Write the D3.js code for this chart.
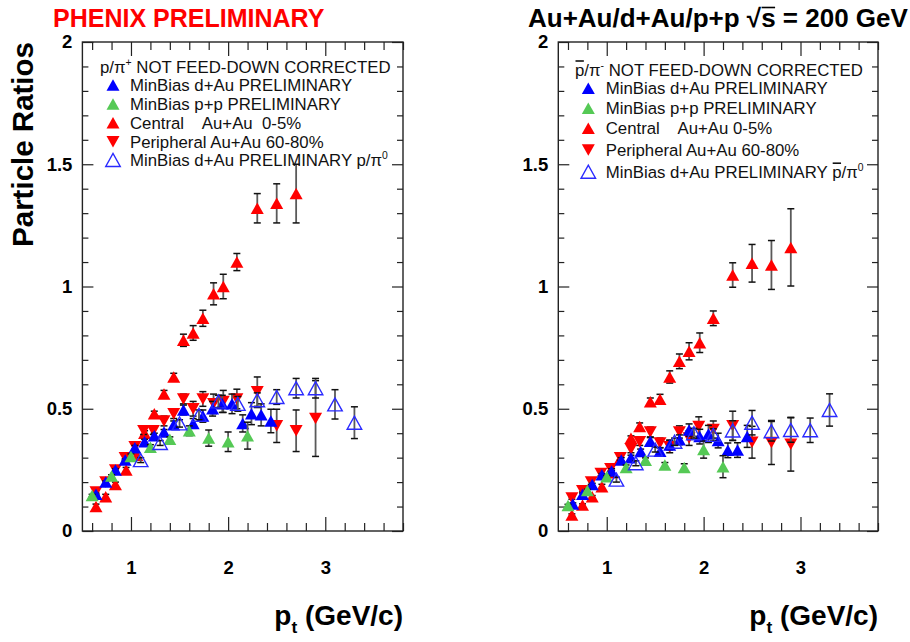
<!DOCTYPE html>
<html><head><meta charset="utf-8">
<script src="https://cdn.jsdelivr.net/npm/d3@7/dist/d3.min.js"></script>
<style>
body{margin:0;background:#fff}
svg{display:block}
text{font-family:"Liberation Sans",Arial,Helvetica,sans-serif;white-space:pre}
</style>
</head><body>
<svg id="c" width="910" height="642"></svg>
<script>
// ---------- DATA ----------
// Left panel: p/pi+
const ptCentralL    = [0.64,0.74,0.84,0.95,1.06,1.14,1.24,1.34,1.44,1.54,1.64,1.74,1.85,1.95,2.09,2.30,2.50,2.70];
const ratioCentralL = [0.10,0.14,0.19,0.25,0.31,0.40,0.48,0.56,0.63,0.78,0.81,0.87,0.97,1.00,1.10,1.32,1.34,1.38];
const errCentralL   = [0.01,0.01,0.01,0.01,0.01,0.01,0.01,0.015,0.015,0.025,0.03,0.033,0.045,0.05,0.035,0.06,0.08,0.12];

const ptPeriphL     = [0.64,0.74,0.84,0.94,1.04,1.13,1.23,1.34,1.44,1.54,1.64,1.74,1.85,1.95,2.09,2.30,2.50,2.70,2.90];
const ratioPeriphL  = [0.16,0.20,0.25,0.30,0.345,0.41,0.41,0.45,0.48,0.54,0.50,0.54,0.52,0.53,0.54,0.57,0.43,0.41,0.46];
const errPeriphL    = [0.01,0.01,0.01,0.01,0.01,0.015,0.015,0.02,0.02,0.02,0.03,0.03,0.04,0.045,0.04,0.06,0.068,0.085,0.155];

const ptDAuL        = [0.64,0.74,0.84,0.94,1.04,1.14,1.24,1.34,1.44,1.54,1.64,1.74,1.84,1.94,2.04,2.15,2.24,2.34,2.44];
const ratioDAuL     = [0.15,0.20,0.25,0.29,0.34,0.365,0.39,0.405,0.435,0.495,0.44,0.47,0.50,0.52,0.52,0.44,0.48,0.475,0.45];
const errDAuL       = [0.005,0.005,0.005,0.005,0.01,0.01,0.01,0.01,0.015,0.02,0.02,0.025,0.03,0.035,0.04,0.035,0.045,0.045,0.048];

const ptPPL         = [0.6,0.8,1.0,1.2,1.4,1.6,1.8,2.0,2.2];
const ratioPPL      = [0.145,0.225,0.305,0.343,0.375,0.41,0.38,0.365,0.39];
const errPPL        = [0.005,0.005,0.01,0.01,0.01,0.02,0.033,0.04,0.055];

const ptPi0L        = [1.1,1.3,1.5,1.7,1.9,2.1,2.3,2.5,2.7,2.9,3.1,3.3];
const ratioPi0L     = [0.29,0.36,0.44,0.475,0.53,0.52,0.535,0.548,0.584,0.584,0.518,0.443];
const errPi0L       = [0.01,0.01,0.015,0.02,0.025,0.03,0.03,0.03,0.04,0.04,0.06,0.065];

// Right panel: pbar/pi-
const ptCentralR    = [0.64,0.75,0.85,0.95,1.05,1.14,1.25,1.34,1.45,1.55,1.65,1.75,1.85,1.96,2.10,2.30,2.50,2.70,2.90];
const ratioCentralR = [0.065,0.106,0.14,0.181,0.238,0.297,0.379,0.427,0.529,0.539,0.63,0.694,0.735,0.77,0.87,1.047,1.095,1.088,1.16];
const errCentralR   = [0.005,0.005,0.005,0.01,0.01,0.01,0.01,0.015,0.015,0.02,0.025,0.03,0.035,0.04,0.03,0.05,0.077,0.10,0.158];

const ptPeriphR     = [0.64,0.75,0.84,0.94,1.04,1.14,1.25,1.34,1.45,1.55,1.65,1.75,1.85,1.95,2.10,2.30,2.50,2.70,2.90];
const ratioPeriphR  = [0.135,0.165,0.20,0.235,0.255,0.30,0.335,0.365,0.405,0.36,0.345,0.405,0.38,0.427,0.415,0.43,0.363,0.362,0.355];
const errPeriphR    = [0.005,0.005,0.01,0.01,0.01,0.01,0.015,0.015,0.02,0.02,0.025,0.025,0.03,0.04,0.035,0.06,0.065,0.09,0.11];

const ptDAuR        = [0.65,0.75,0.85,0.95,1.05,1.15,1.25,1.35,1.45,1.55,1.65,1.75,1.85,1.96,2.05,2.15,2.25,2.35,2.45];
const ratioDAuR     = [0.11,0.15,0.19,0.23,0.245,0.29,0.30,0.325,0.367,0.326,0.352,0.373,0.413,0.386,0.397,0.37,0.33,0.331,0.387];
const errDAuR       = [0.005,0.005,0.005,0.005,0.01,0.01,0.01,0.01,0.015,0.015,0.02,0.02,0.025,0.03,0.035,0.03,0.03,0.03,0.045];

const ptPPR         = [0.6,0.8,1.0,1.2,1.4,1.6,1.8,2.0,2.2];
const ratioPPR      = [0.104,0.166,0.222,0.26,0.289,0.27,0.26,0.333,0.263];
const errPPR        = [0.005,0.005,0.005,0.01,0.01,0.01,0.015,0.035,0.045];

const ptPi0R        = [1.1,1.3,1.5,1.7,1.9,2.1,2.3,2.5,2.7,2.9,3.1,3.3];
const ratioPi0R     = [0.21,0.277,0.333,0.365,0.40,0.393,0.411,0.443,0.408,0.413,0.412,0.495];
const errPi0R       = [0.01,0.01,0.01,0.015,0.02,0.025,0.04,0.05,0.04,0.05,0.05,0.066];

// Axes / ticks
const xDomain = [0.5, 3.8];
const yDomain = [0, 2];
const xMajorTicks = [1, 2, 3];
const xTickLabels = ["1", "2", "3"];
const yMajorTicks = [0, 0.5, 1, 1.5, 2];
const yTickLabels = ["0", "0.5", "1", "1.5", "2"];

// Legends ('^' superscript next char, '_' subscript, '!' overline)
const legendHeaderL = "p/π^+ NOT FEED-DOWN CORRECTED";
const legendHeaderR = "!p/π^- NOT FEED-DOWN CORRECTED";
const legendLabelsL = ["MinBias d+Au PRELIMINARY","MinBias p+p PRELIMINARY","Central    Au+Au  0-5%","Peripheral Au+Au 60-80%","MinBias d+Au PRELIMINARY p/π^0"];
const legendLabelsR = ["MinBias d+Au PRELIMINARY","MinBias p+p PRELIMINARY","Central    Au+Au 0-5%","Peripheral Au+Au 60-80%","MinBias d+Au PRELIMINARY !p/π^0"];
const titleL = "PHENIX PRELIMINARY";
const titleR = "Au+Au/d+Au/p+p √!s = 200 GeV";
const yTitle = "Particle Ratios";
const xTitle = "p_t (GeV/c)";

// ---------- STYLE ----------
const RED = "#ff0000", BLUE = "#0000ff", GREEN = "#55c955", OPEN = "#2a2aff";
const svg = d3.select("#c");

function triPath(cx, cy, w, h, up) {
  return up
    ? `M${cx-w/2},${cy+h/2}L${cx+w/2},${cy+h/2}L${cx},${cy-h/2}Z`
    : `M${cx-w/2},${cy-h/2}L${cx+w/2},${cy-h/2}L${cx},${cy+h/2}Z`;
}

function marker(g, cx, cy, type, color) {
  if (type === "open") {
    g.append("path").attr("d", triPath(cx, cy, 14.5, 13, true))
      .attr("fill", "none").attr("stroke", color).attr("stroke-width", 1.4);
  } else {
    g.append("path").attr("d", triPath(cx, cy, 13, 11.5, type === "up"))
      .attr("fill", color);
  }
}

function rich(textSel, str, fs) {
  const runs = [];
  for (let i = 0; i < str.length; i++) {
    const c = str[i];
    if (c === "^" || c === "_" || c === "!") { runs.push({t: str[i+1], m: c}); i++; }
    else {
      const last = runs[runs.length-1];
      if (last && last.m === "") last.t += c; else runs.push({t: c, m: ""});
    }
  }
  let prev = 0, idx = 0; const overs = [];
  runs.forEach(r => {
    const shift = r.m === "^" ? -0.42*fs : r.m === "_" ? 0.28*fs : 0;
    const ts = textSel.append("tspan").text(r.t);
    if (shift - prev !== 0) ts.attr("dy", shift - prev);
    if (r.m === "^" || r.m === "_") ts.style("font-size", (0.62*fs) + "px");
    if (r.m === "!") overs.push(idx);
    prev = shift; idx += r.t.length;
  });
  return overs;
}

function drawOverlines(textSel, overs, baseline, off, parent) {
  const node = textSel.node();
  overs.forEach(i => {
    const e = node.getExtentOfChar(i);
    parent.append("line").attr("x1", e.x + 0.5).attr("x2", e.x + e.width - 0.5)
      .attr("y1", baseline - off).attr("y2", baseline - off)
      .attr("stroke", textSel.attr("fill") || "#000").attr("stroke-width", 1.6);
  });
}

const panels = [
  {
    x0: 82.4, x1: 403, header: legendHeaderL, labels: legendLabelsL,
    legX: 100, legY: 72.7, legMX: 113, legTX: 130, legRows: [85, 104, 122.7, 141.7, 160],
    series: [
      {pt: ptCentralL, r: ratioCentralL, e: errCentralL, type: "up", color: RED},
      {pt: ptPeriphL, r: ratioPeriphL, e: errPeriphL, type: "down", color: RED},
      {pt: ptDAuL, r: ratioDAuL, e: errDAuL, type: "up", color: BLUE},
      {pt: ptPPL, r: ratioPPL, e: errPPL, type: "up", color: GREEN},
      {pt: ptPi0L, r: ratioPi0L, e: errPi0L, type: "open", color: OPEN}
    ]
  },
  {
    x0: 558.3, x1: 878, header: legendHeaderR, labels: legendLabelsR,
    legX: 575, legY: 76, legMX: 588.3, legTX: 605.7, legRows: [88.3, 108.3, 128.3, 150, 171.7],
    series: [
      {pt: ptCentralR, r: ratioCentralR, e: errCentralR, type: "up", color: RED},
      {pt: ptPeriphR, r: ratioPeriphR, e: errPeriphR, type: "down", color: RED},
      {pt: ptDAuR, r: ratioDAuR, e: errDAuR, type: "up", color: BLUE},
      {pt: ptPPR, r: ratioPPR, e: errPPR, type: "up", color: GREEN},
      {pt: ptPi0R, r: ratioPi0R, e: errPi0R, type: "open", color: OPEN}
    ]
  }
];
const legendOrder = [2, 3, 0, 1, 4];
const Y0 = 531, Y1 = 42;
const FS_TICK = 18.5, FS_LEG = 16.8;

panels.forEach(p => {
  const x = d3.scaleLinear().domain(xDomain).range([p.x0, p.x1]);
  const y = d3.scaleLinear().domain(yDomain).range([Y0, Y1]);
  const g = svg.append("g");
  const xMinor = d3.range(0.6, 3.81, 0.2).filter(v => Math.abs(v - Math.round(v)) > 1e-6);
  const yMinor = d3.range(0.1, 2.0, 0.1).filter(v => Math.abs(v*2 - Math.round(v*2)) > 1e-6);

  const strip = s => s.call(a => a.select(".domain").remove());
  const style = s => s.selectAll("line").attr("stroke", "#222").attr("stroke-width", 1.2);

  // bottom
  g.append("g").attr("transform", `translate(0,${Y0})`)
    .call(d3.axisBottom(x).tickValues(xMajorTicks).tickFormat((d,i) => xTickLabels[i]).tickSizeInner(-14).tickSizeOuter(0).tickPadding(30))
    .call(strip).call(style)
    .call(a => a.selectAll("text").attr("font-size", FS_TICK).attr("font-weight", "bold").attr("fill", "#000")
      .attr("font-family", '"Liberation Sans",Arial,sans-serif'));
  g.append("g").attr("transform", `translate(0,${Y0})`)
    .call(d3.axisBottom(x).tickValues(xMinor).tickFormat("").tickSizeInner(-8).tickSizeOuter(0)).call(strip).call(style);
  // top
  g.append("g").attr("transform", `translate(0,${Y1})`)
    .call(d3.axisTop(x).tickValues(xMajorTicks).tickFormat("").tickSizeInner(-14).tickSizeOuter(0)).call(strip).call(style);
  g.append("g").attr("transform", `translate(0,${Y1})`)
    .call(d3.axisTop(x).tickValues(xMinor).tickFormat("").tickSizeInner(-8).tickSizeOuter(0)).call(strip).call(style);
  // left
  g.append("g").attr("transform", `translate(${p.x0},0)`)
    .call(d3.axisLeft(y).tickValues(yMajorTicks).tickFormat((d,i) => yTickLabels[i]).tickSizeInner(-11).tickSizeOuter(0).tickPadding(10))
    .call(strip).call(style)
    .call(a => a.selectAll("text").attr("font-size", FS_TICK).attr("font-weight", "bold").attr("fill", "#000")
      .attr("font-family", '"Liberation Sans",Arial,sans-serif'));
  g.append("g").attr("transform", `translate(${p.x0},0)`)
    .call(d3.axisLeft(y).tickValues(yMinor).tickFormat("").tickSizeInner(-6).tickSizeOuter(0)).call(strip).call(style);
  // right
  g.append("g").attr("transform", `translate(${p.x1},0)`)
    .call(d3.axisRight(y).tickValues(yMajorTicks).tickFormat("").tickSizeInner(-11).tickSizeOuter(0)).call(strip).call(style);
  g.append("g").attr("transform", `translate(${p.x1},0)`)
    .call(d3.axisRight(y).tickValues(yMinor).tickFormat("").tickSizeInner(-6).tickSizeOuter(0)).call(strip).call(style);

  // frame
  g.append("rect").attr("x", p.x0).attr("y", Y1).attr("width", p.x1 - p.x0).attr("height", Y0 - Y1)
    .attr("fill", "none").attr("stroke", "#222").attr("stroke-width", 1.4);

  // legend
  const lg = g.append("g");
  const hd = lg.append("text").attr("x", p.legX).attr("y", p.legY).attr("font-size", FS_LEG).attr("fill", "#111");
  drawOverlines(hd, rich(hd, p.header, FS_LEG), p.legY, 15, lg);
  legendOrder.forEach((si, row) => {
    const s = p.series[si];
    const cy = p.legRows[row];
    marker(lg, p.legMX, cy, s.type, s.color);
    const t = lg.append("text").attr("x", p.legTX).attr("y", cy + 6).attr("font-size", FS_LEG).attr("fill", "#111");
    drawOverlines(t, rich(t, p.labels[row], FS_LEG), cy + 6, 14.5, lg);
  });

  // data
  p.series.forEach(s => {
    const sg = g.append("g");
    s.pt.forEach((pt, i) => {
      const cx = x(pt), yt = y(s.r[i] + s.e[i]), yb = y(s.r[i] - s.e[i]);
      sg.append("line").attr("x1", cx).attr("x2", cx).attr("y1", yt).attr("y2", yb)
        .attr("stroke", "#5a5a5a").attr("stroke-width", 1.8);
      [yt, yb].forEach(yy => sg.append("line").attr("x1", cx - 3.5).attr("x2", cx + 3.5).attr("y1", yy).attr("y2", yy)
        .attr("stroke", "#111").attr("stroke-width", 1.5));
    });
    s.pt.forEach((pt, i) => marker(sg, x(pt), y(s.r[i]), s.type, s.color));
  });

  // x title
  const xt = g.append("text").attr("x", p.x1).attr("y", 625).attr("text-anchor", "end")
    .attr("font-size", 28).attr("font-weight", "bold").attr("fill", "#000");
  rich(xt, xTitle, 28);
});

// titles
svg.append("text").attr("x", 53).attr("y", 27).attr("font-size", 25).attr("font-weight", "bold")
  .attr("fill", RED).text(titleL);
const tr = svg.append("text").attr("x", 528).attr("y", 27).attr("font-size", 26).attr("font-weight", "bold").attr("fill", "#000");
drawOverlines(tr, rich(tr, titleR, 26), 27, 19.5, svg);

// y title
svg.append("text").attr("transform", "translate(33,42) rotate(-90)").attr("text-anchor", "end")
  .attr("font-size", 29.5).attr("font-weight", "bold").attr("fill", "#000").text(yTitle);
</script>
</body></html>
